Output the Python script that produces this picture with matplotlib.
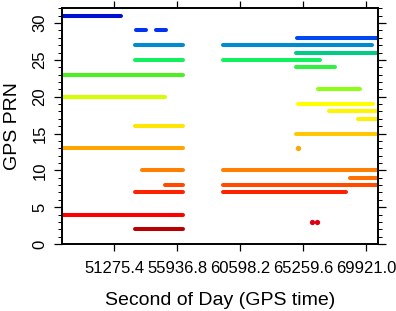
import matplotlib
matplotlib.use('Agg')
import matplotlib.pyplot as plt
from matplotlib.ticker import MultipleLocator

plt.rcParams['font.family'] = ['Liberation Sans', 'DejaVu Sans']

# visibility segments per satellite: (start, end) second of day
prns = [31, 29, 28, 27, 26, 25, 24, 23, 21, 20, 19, 18, 17, 16, 15, 13, 10, 9, 8, 7, 4, 3, 2]
segments = [
    [(47000, 51734)],
    [(52881, 53621), (54361, 55101)],
    [(64793, 70900)],
    [(52807, 56395), (59355, 70342)],
    [(64756, 70900)],
    [(52807, 56395), (59355, 66532)],
    [(64756, 67642)],
    [(47000, 56395)],
    [(66347, 69455)],
    [(47000, 55027)],
    [(64867, 70454)],
    [(67198, 70900)],
    [(69307, 70900)],
    [(52807, 56395)],
    [(64756, 70900)],
    [(47000, 56395), (64867, 64867)],
    [(53288, 56395), (59355, 70900)],
    [(68715, 70900)],
    [(55027, 56395), (59355, 70900)],
    [(52807, 56395), (59355, 68456)],
    [(47000, 56395)],
    [(65881, 65881), (66273, 66273)],
    [(52807, 56395)],
]
colors = ['#0010D0', '#0032F0', '#0048F0', '#008ACF', '#00CC88', '#12F060', '#30F040',
          '#4CF020', '#8CFF14', '#D4FF00', '#FFFF00', '#FFF500', '#FFF200', '#FFE600',
          '#FFC800', '#FFA500', '#FF8000', '#FF7000', '#FF4A00', '#FF2200', '#FF0000',
          '#DD0010', '#B80000']

xticks = [51275.4, 55936.8, 60598.2, 65259.6, 69921.0]

fig = plt.figure(figsize=(3.96, 3.11), dpi=100)
ax = fig.add_axes([0.1566, 0.2154, 0.7979, 0.7589])

for prn, segs, c in zip(prns, segments, colors):
    for s, e in segs:
        if s == e:
            ax.plot([s], [prn], 'o', color=c, ms=3.8, mec='none')
        else:
            ax.plot([s, e], [prn, prn], '-', color=c, lw=2.9, solid_capstyle='round')

ax.set_xlim(47406, 70786)
ax.set_ylim(0, 32.05)
ax.set_xticks(xticks)
ax.set_xticklabels([f'{t:.1f}' for t in xticks])
ax.yaxis.set_major_locator(MultipleLocator(5))
ax.yaxis.set_minor_locator(MultipleLocator(1))
ax.tick_params(axis='x', which='major', direction='out', length=5, width=0.9,
               top=True, labelsize=12, pad=7)
ax.tick_params(axis='y', which='major', direction='out', length=5.5, width=0.9,
               right=True, labelsize=12, pad=5)
ax.tick_params(axis='y', which='minor', direction='out', length=2.8, width=0.7, right=True)
for lbl in ax.get_yticklabels():
    lbl.set_rotation(90)
    lbl.set_va('center')
for sp in ax.spines.values():
    sp.set_linewidth(1.4)

ax.set_xlabel('Second of Day (GPS time)', fontsize=14, labelpad=12)
ax.set_ylabel('GPS PRN', fontsize=14, labelpad=8)

fig.savefig('out.png', dpi=100)
